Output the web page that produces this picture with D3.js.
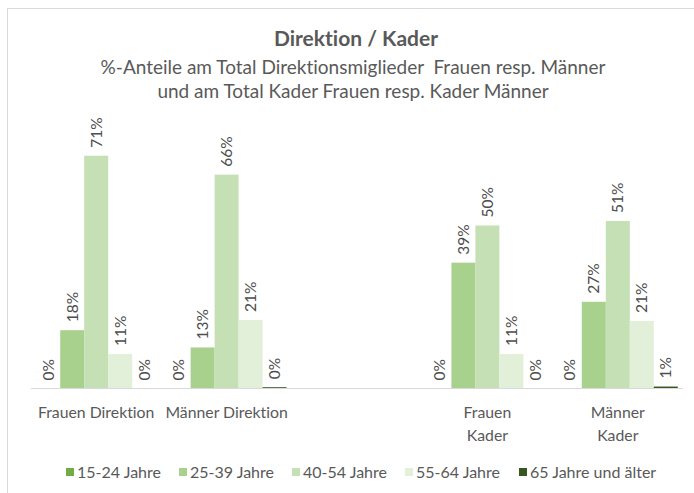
<!DOCTYPE html>
<html>
<head>
<meta charset="utf-8">
<script src="https://cdn.jsdelivr.net/npm/d3@7"></script>
<style>
  body { margin: 0; background: #fff; }
  text { font-family: Lato, "Open Sans", sans-serif; fill: #595959; font-variant-ligatures: none; }
</style>
</head>
<body>
<div id="chart"></div>
<script>
// categories (the empty one is the gap between Direktion and Kader)
var categories = ["Frauen Direktion", "Männer Direktion", "", "Frauen\nKader", "Männer\nKader"];
var ageGroups = ["15-24 Jahre", "25-39 Jahre", "40-54 Jahre", "55-64 Jahre", "65 Jahre und älter"];
var colors = ["#70ad47", "#a9d18e", "#c5e0b4", "#e2f0d9", "#375623"];

// % per age group, one array per category
var frauenDirektion = [0, 17.9, 71.4, 10.6, 0];
var maennerDirektion = [0, 12.6, 65.6, 21.0, 0.4];
var leer = [];
var frauenKader = [0, 38.6, 50.0, 10.6, 0];
var maennerKader = [0, 26.6, 51.4, 20.7, 0.6];
var series = [frauenDirektion, maennerDirektion, leer, frauenKader, maennerKader];

var width = 694, height = 493;

var svg = d3.select("#chart")
  .append("svg")
  .attr("width", width)
  .attr("height", height);

// chart border
svg.append("rect")
  .attr("x", 7.5)
  .attr("y", 8.5)
  .attr("width", 720)
  .attr("height", 520)
  .style("fill", "white")
  .style("stroke", "#d9d9d9")
  .style("stroke-width", "1px");

// titles
svg.append("text")
  .attr("x", 356)
  .attr("y", 46)
  .attr("text-anchor", "middle")
  .attr("font-size", 21)
  .attr("font-weight", "bold")
  .text("Direktion / Kader");

var subtitle = ["%-Anteile am Total Direktionsmiglieder  Frauen resp. Männer",
                "und am Total Kader Frauen resp. Kader Männer"];
svg.selectAll("text.subtitle")
  .data(subtitle)
  .enter()
  .append("text")
  .attr("class", "subtitle")
  .attr("x", 353)
  .attr("y", function(d, i) { return 74 + i * 24; })
  .attr("text-anchor", "middle")
  .attr("font-size", 19)
  .style("white-space", "pre")
  .text(function(d) { return d; });

// scales
var x0 = d3.scaleBand()
  .domain(d3.range(categories.length))
  .range([31, 683])
  .paddingInner(0.08)
  .paddingOuter(0.04);

var x1 = d3.scaleBand()
  .domain(d3.range(ageGroups.length))
  .range([0, x0.bandwidth()]);

var y = d3.scaleLinear()
  .domain([0, 80])
  .range([388.5, 127.7]);

// bars
var groups = svg.selectAll("g.cat")
  .data(series)
  .enter()
  .append("g")
  .attr("class", "cat")
  .attr("transform", function(d, i) { return "translate(" + x0(i) + ",0)"; });

groups.selectAll("rect")
  .data(function(d) { return d; })
  .enter()
  .append("rect")
  .attr("x", function(d, i) { return x1(i); })
  .attr("y", function(d) { return y(d); })
  .attr("width", x1.bandwidth())
  .attr("height", function(d) { return y(0) - y(d); })
  .style("fill", function(d, i) { return colors[i]; });

// value labels, rotated
groups.selectAll("text.value")
  .data(function(d) { return d; })
  .enter()
  .append("text")
  .attr("class", "value")
  .attr("transform", function(d, i) {
    return "translate(" + (x1(i) + x1.bandwidth() / 2) + "," + (y(d) - 8) + ") rotate(-90)";
  })
  .attr("dy", "0.35em")
  .attr("font-size", 15.5)
  .style("fill", "#4d4d4d")
  .text(function(d) { return d3.format(".0f")(d) + "%"; });

// axis line
svg.append("line")
  .attr("x1", 31)
  .attr("x2", 683)
  .attr("y1", 388.5)
  .attr("y2", 388.5)
  .style("stroke", "#d9d9d9")
  .style("stroke-width", "1px");

// category labels
var catLabels = svg.selectAll("text.cat")
  .data(categories)
  .enter()
  .append("text")
  .attr("class", "cat")
  .attr("x", function(d, i) { return x0(i) + x0.bandwidth() / 2; })
  .attr("y", 418)
  .attr("text-anchor", "middle")
  .attr("font-size", 15.8);

catLabels.selectAll("tspan")
  .data(function(d) { return d.split("\n"); })
  .enter()
  .append("tspan")
  .attr("x", function() { return d3.select(this.parentNode).attr("x"); })
  .attr("dy", function(d, i) { return i ? 23 : 0; })
  .text(function(d) { return d; });

// legend
var legendX = [66, 179, 292, 405, 519];
var legend = svg.selectAll("g.legend")
  .data(ageGroups)
  .enter()
  .append("g")
  .attr("class", "legend")
  .attr("transform", function(d, i) { return "translate(" + legendX[i] + ",472)"; });

legend.append("rect")
  .attr("x", 0)
  .attr("y", -4)
  .attr("width", 8)
  .attr("height", 8)
  .style("fill", function(d, i) { return colors[i]; });

legend.append("text")
  .attr("x", 11)
  .attr("dy", "0.35em")
  .attr("font-size", 16)
  .text(function(d) { return d; });
</script>
</body>
</html>
